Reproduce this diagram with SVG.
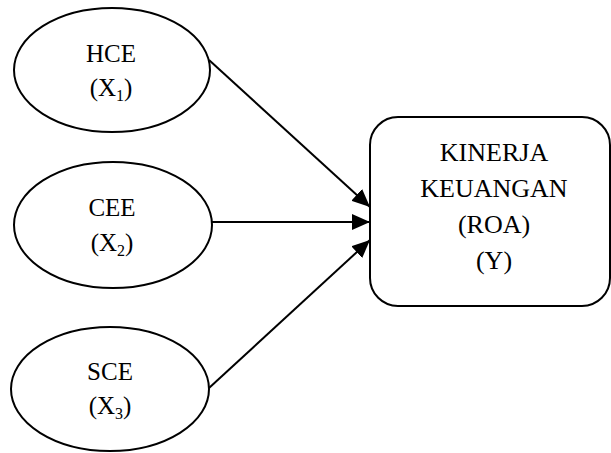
<svg xmlns="http://www.w3.org/2000/svg" width="611" height="453" viewBox="0 0 611 453">
<style>
.shape{fill:#fff;stroke:#000;stroke-width:2}
.lbl{font-family:"Liberation Serif","Times New Roman",serif;font-size:25px;fill:#000;text-anchor:middle}
.big{font-size:26px}
.sub{font-size:16px}
.edge{stroke:#000;stroke-width:2;fill:none;marker-end:url(#ah)}
</style>
<defs>
<marker id="ah" viewBox="0 0 18 16" refX="18" refY="8" markerUnits="userSpaceOnUse" markerWidth="18" markerHeight="16" orient="auto">
<path d="M0,0 L18,8 L0,16 Z" fill="#000"/>
</marker>
</defs>
<rect width="611" height="453" fill="#fff"/>
<g id="hce">
<ellipse class="shape" cx="112" cy="70" rx="98" ry="62"/>
<text class="lbl" x="111" y="62">HCE</text>
<text class="lbl" x="111" y="96">(X<tspan class="sub" dy="5">1</tspan><tspan dy="-5">)</tspan></text>
</g>
<g id="cee">
<ellipse class="shape" cx="113" cy="225" rx="99" ry="63"/>
<text class="lbl" x="112" y="216">CEE</text>
<text class="lbl" x="112" y="251">(X<tspan class="sub" dy="5">2</tspan><tspan dy="-5">)</tspan></text>
</g>
<g id="sce">
<ellipse class="shape" cx="110" cy="389" rx="99" ry="62"/>
<text class="lbl" x="110" y="380">SCE</text>
<text class="lbl" x="110" y="414">(X<tspan class="sub" dy="5">3</tspan><tspan dy="-5">)</tspan></text>
</g>
<g id="kinerja">
<rect class="shape" x="370" y="117" width="240" height="189" rx="28" ry="28"/>
<text class="lbl big" x="494" y="161">KINERJA</text>
<text class="lbl big" x="494" y="197">KEUANGAN</text>
<text class="lbl big" x="494" y="233">(ROA)</text>
<text class="lbl big" x="494" y="269">(Y)</text>
</g>
<g id="connectors">
<line class="edge" x1="209" y1="60" x2="370" y2="207"/>
<line class="edge" x1="212" y1="222" x2="370" y2="222"/>
<line class="edge" x1="209" y1="388" x2="370" y2="240"/>
</g>
</svg>
